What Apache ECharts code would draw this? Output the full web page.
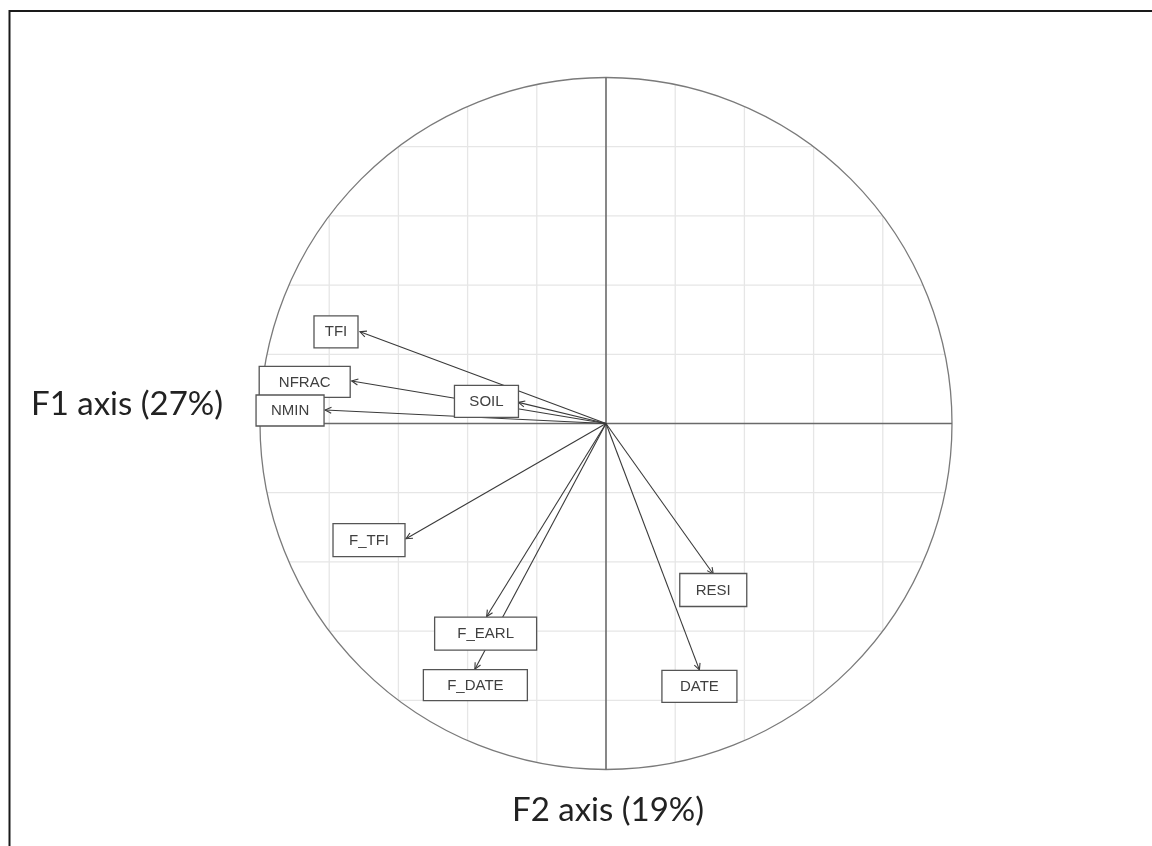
<!DOCTYPE html>
<html>
<head>
<meta charset="utf-8">
<script src="https://cdn.jsdelivr.net/npm/echarts@6/dist/echarts.min.js"></script>
<style>
html,body{margin:0;padding:0;background:#fff;}
#chart{width:1152px;height:846px;}
</style>
</head>
<body>
<div id="chart"></div>
<script>
// ---- data ----
const variables = ['TFI', 'NFRAC', 'NMIN', 'SOIL', 'F_TFI', 'F_EARL', 'F_DATE', 'RESI', 'DATE'];
const dim1 = [-0.711, -0.735, -0.812, -0.253, -0.578, -0.345, -0.379, 0.310, 0.270];
const dim2 = [0.265, 0.123, 0.039, 0.061, -0.333, -0.558, -0.710, -0.435, -0.712];
const gridTicks = [-0.8, -0.6, -0.4, -0.2, 0.2, 0.4, 0.6, 0.8];
const axisTitleH = 'F1 axis (27%)';
const axisTitleV = 'F2 axis (19%)';

// ---- label layout (pixel offsets of label box centre from arrow tip, box size) ----
const labelLayout = {
  TFI:    {dx: -24,  dy: 0,   w: 44,  h: 32},
  NFRAC:  {dx: -47,  dy: 1,   w: 91,  h: 31},
  NMIN:   {dx: -35,  dy: 0.5, w: 68,  h: 31},
  SOIL:   {dx: -32,  dy: -1,  w: 64,  h: 32},
  F_TFI:  {dx: -37,  dy: 1.5, w: 72,  h: 33},
  F_EARL: {dx: -1,   dy: 17,  w: 102, h: 33},
  F_DATE: {dx: 0.5,  dy: 16,  w: 104, h: 31},
  RESI:   {dx: 0,    dy: 16,  w: 67,  h: 33},
  DATE:   {dx: 0,    dy: 16.5,w: 75,  h: 32}
};

const chart = echarts.init(document.getElementById('chart'), null, {renderer: 'canvas'});

const pts = dim1.map((x, i) => [x, dim2[i], variables[i]]);

const option = {
  animation: false,
  backgroundColor: '#ffffff',
  grid: {left: 260, top: 77.5, width: 692, height: 692},
  xAxis: {type: 'value', min: -1, max: 1, show: false},
  yAxis: {type: 'value', min: -1, max: 1, show: false},
  graphic: [
    {
      type: 'polyline', silent: true, z: 10,
      shape: {points: [[9.5, 846], [9.5, 11], [1152, 11]]},
      style: {stroke: '#1a1a1a', lineWidth: 2, fill: null}
    },
    {
      type: 'text', left: 31, top: 388, z: 10,
      style: {text: axisTitleH, font: '33px Lato', fill: '#222'}
    },
    {
      type: 'text', left: 512, top: 794, z: 10,
      style: {text: axisTitleV, font: '33px Lato', fill: '#222'}
    }
  ],
  series: [
    { // grid lines clipped to the unit circle
      type: 'custom', coordinateSystem: 'cartesian2d', silent: true, z: 1,
      data: gridTicks.map(v => [v, 0]),
      renderItem: function (params, api) {
        const v = api.value(0);
        const h = Math.sqrt(1 - v * v);
        const a1 = api.coord([v, -h]), a2 = api.coord([v, h]);
        const b1 = api.coord([-h, v]), b2 = api.coord([h, v]);
        const st = {stroke: '#e6e6e6', lineWidth: 1.3};
        return {
          type: 'group', children: [
            {type: 'line', shape: {x1: a1[0], y1: a1[1], x2: a2[0], y2: a2[1]}, style: st},
            {type: 'line', shape: {x1: b1[0], y1: b1[1], x2: b2[0], y2: b2[1]}, style: st}
          ]
        };
      }
    },
    { // circle and axes
      type: 'custom', coordinateSystem: 'cartesian2d', silent: true, z: 2,
      data: [[0, 0]],
      renderItem: function (params, api) {
        const c = api.coord([0, 0]);
        const r = api.size([1, 0])[0];
        const l = api.coord([-1, 0]), rr = api.coord([1, 0]);
        const t = api.coord([0, 1]), b = api.coord([0, -1]);
        return {
          type: 'group', children: [
            {type: 'circle', shape: {cx: c[0], cy: c[1], r: r}, style: {fill: null, stroke: '#7a7a7a', lineWidth: 1.3}},
            {type: 'line', shape: {x1: l[0], y1: l[1], x2: rr[0], y2: rr[1]}, style: {stroke: '#6a6a6a', lineWidth: 1.6}},
            {type: 'line', shape: {x1: t[0], y1: t[1], x2: b[0], y2: b[1]}, style: {stroke: '#6a6a6a', lineWidth: 1.6}}
          ]
        };
      }
    },
    { // arrows
      type: 'custom', coordinateSystem: 'cartesian2d', silent: true, z: 3,
      data: pts,
      renderItem: function (params, api) {
        const o = api.coord([0, 0]);
        const p = api.coord([api.value(0), api.value(1)]);
        const ang = Math.atan2(p[1] - o[1], p[0] - o[0]);
        const L = 7, a = Math.PI / 7;
        const h1 = [p[0] - L * Math.cos(ang - a), p[1] - L * Math.sin(ang - a)];
        const h2 = [p[0] - L * Math.cos(ang + a), p[1] - L * Math.sin(ang + a)];
        const st = {stroke: '#3a3a3a', lineWidth: 1.1, fill: null};
        return {
          type: 'group', children: [
            {type: 'line', shape: {x1: o[0], y1: o[1], x2: p[0], y2: p[1]}, style: st},
            {type: 'polyline', shape: {points: [h1, p, h2]}, style: st}
          ]
        };
      }
    },
    { // labels in boxes
      type: 'custom', coordinateSystem: 'cartesian2d', silent: true, z: 4,
      data: pts,
      renderItem: function (params, api) {
        const name = variables[params.dataIndex];
        const lay = labelLayout[name];
        const p = api.coord([api.value(0), api.value(1)]);
        const cx = p[0] + lay.dx, cy = p[1] + lay.dy;
        return {
          type: 'group', children: [
            {type: 'rect', shape: {x: cx - lay.w / 2, y: cy - lay.h / 2, width: lay.w, height: lay.h},
             style: {fill: '#ffffff', stroke: '#555555', lineWidth: 1.3}},
            {type: 'text', x: cx, y: cy + 0.5,
             style: {text: name, font: '15px "Liberation Sans", Arial, sans-serif', fill: '#404040',
                     align: 'center', verticalAlign: 'middle'}}
          ]
        };
      }
    }
  ]
};
chart.setOption(option);
</script>
</body>
</html>
